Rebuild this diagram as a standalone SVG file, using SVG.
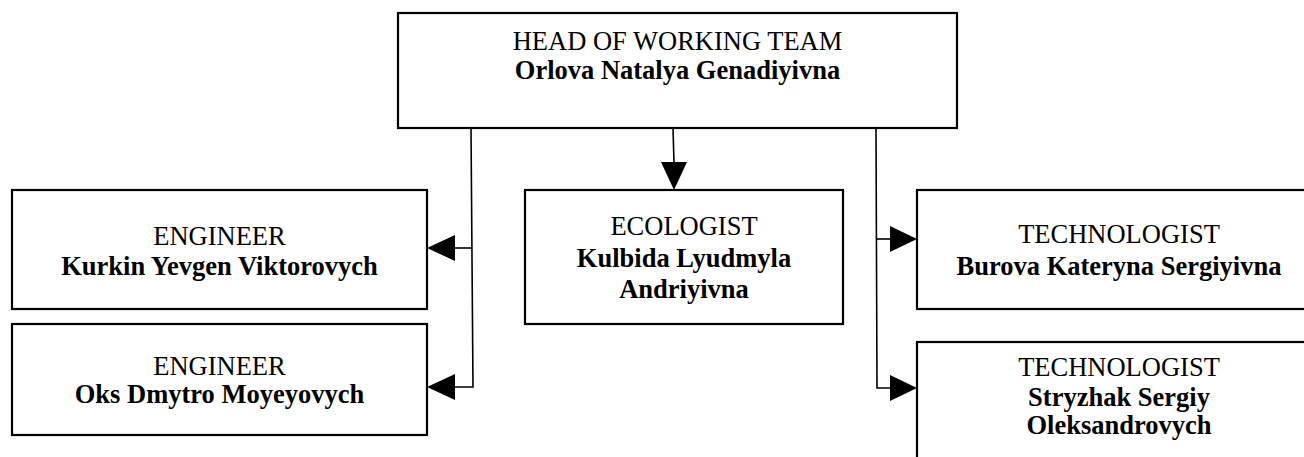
<svg xmlns="http://www.w3.org/2000/svg" width="1304" height="457" viewBox="0 0 1304 457">
<style>
.box{fill:#fff;stroke:#000;stroke-width:2.2}
.ln{fill:none;stroke:#000;stroke-width:1.6}
.ah{fill:#000;stroke:none}
text{font-family:"Liberation Serif","Times New Roman",serif;font-size:26.5px;fill:#000;text-anchor:middle}
.b{font-weight:bold}
</style>
<rect width="1304" height="457" fill="#fff"/>
<g id="connectors">
<polyline class="ln" points="471,128 473,387 455,387"/>
<line class="ln" x1="472" y1="248" x2="455" y2="248"/>
<polygon class="ah" points="427,248 455,235 455,261"/>
<polygon class="ah" points="427,387 455,374 455,400"/>
<polyline class="ln" points="876,128 877,388 890,388"/>
<line class="ln" x1="876" y1="239" x2="890" y2="239"/>
<polygon class="ah" points="917,239 890,226 890,252"/>
<polygon class="ah" points="917,388 890,375 890,401"/>
<line class="ln" x1="673" y1="128" x2="674" y2="163"/>
<polygon class="ah" points="674,190 661,162 687,162"/>
</g>
<g id="head">
<rect class="box" x="398" y="13" width="559" height="115"/>
<text x="677.5" y="50">HEAD OF WORKING TEAM</text>
<text class="b" x="677.5" y="79">Orlova Natalya Genadiyivna</text>
</g>
<g id="engineer1">
<rect class="box" x="12" y="190" width="415" height="119"/>
<text x="219.5" y="245">ENGINEER</text>
<text class="b" x="219.5" y="275">Kurkin Yevgen Viktorovych</text>
</g>
<g id="engineer2">
<rect class="box" x="12" y="324" width="415" height="111"/>
<text x="219.5" y="375">ENGINEER</text>
<text class="b" x="219.5" y="403">Oks Dmytro Moyeyovych</text>
</g>
<g id="ecologist">
<rect class="box" x="525" y="190" width="318" height="134"/>
<text x="684" y="235">ECOLOGIST</text>
<text class="b" x="684" y="267">Kulbida Lyudmyla</text>
<text class="b" x="684" y="298">Andriyivna</text>
</g>
<g id="technologist1">
<rect class="box" x="917" y="190" width="404" height="119"/>
<text x="1119" y="243">TECHNOLOGIST</text>
<text class="b" x="1119" y="275">Burova Kateryna Sergiyivna</text>
</g>
<g id="technologist2">
<rect class="box" x="917" y="342" width="404" height="130"/>
<text x="1119" y="376">TECHNOLOGIST</text>
<text class="b" x="1119" y="406">Stryzhak Sergiy</text>
<text class="b" x="1119" y="434">Oleksandrovych</text>
</g>
</svg>
